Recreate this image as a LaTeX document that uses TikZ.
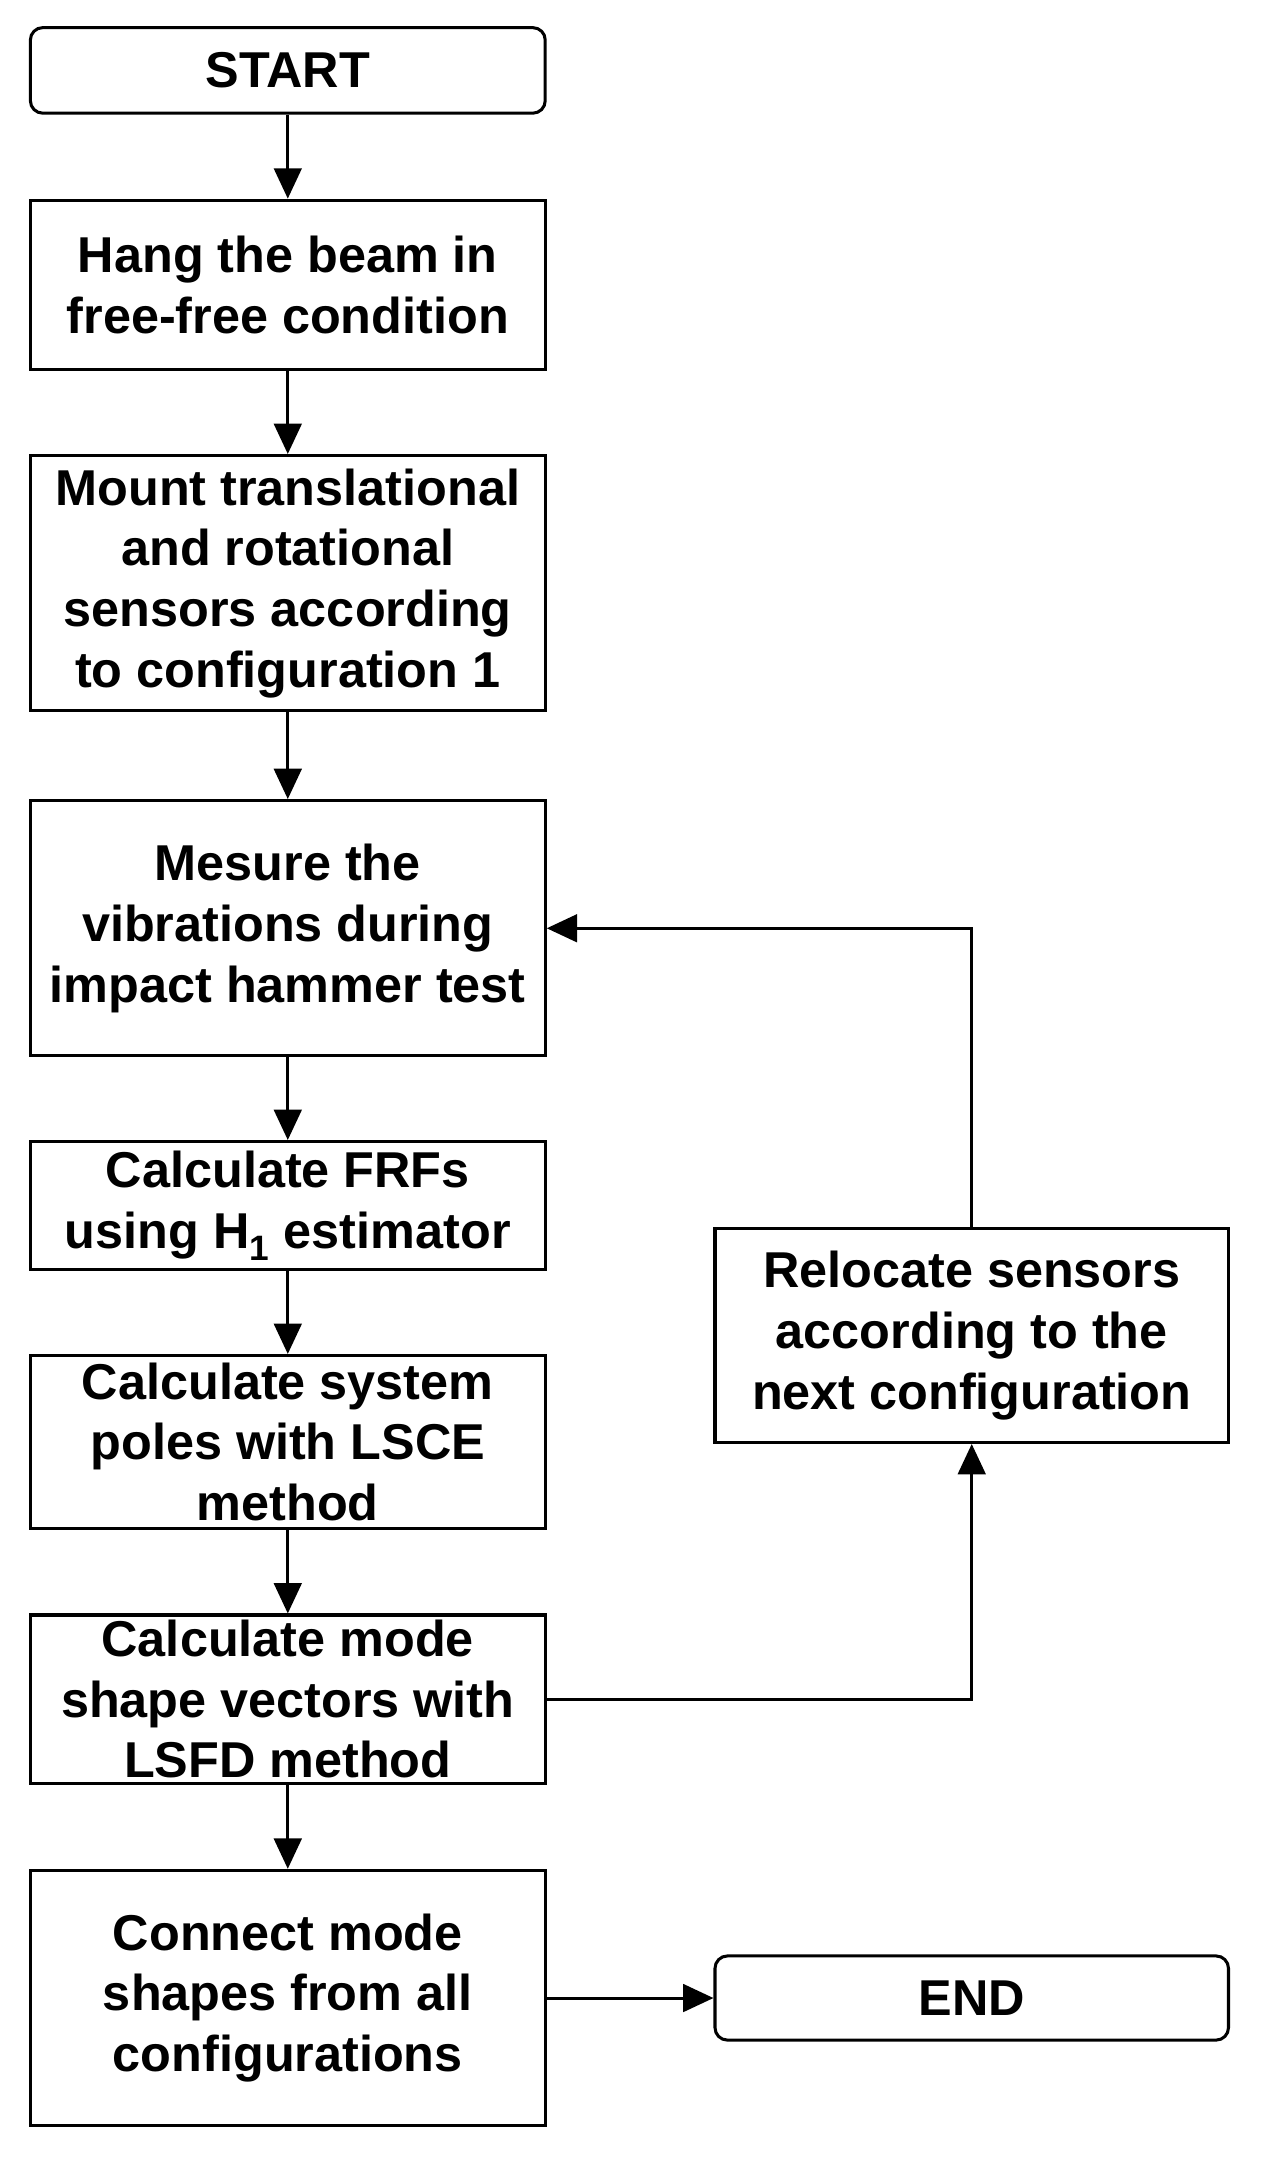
\documentclass[tikz,border=0pt]{standalone}
\usepackage{fontspec}
\setmainfont{Liberation Sans}
\usetikzlibrary{arrows.meta}
\begin{document}
\begin{tikzpicture}[x=1pt,y=-1pt,
  box/.style={draw,line width=2.2pt,align=center,font=\fontsize{36.5}{44}\selectfont\bfseries,inner sep=0pt},
  arr/.style={line width=2.2pt,-{Triangle[length=22pt,width=20pt]}}]
\useasboundingbox (0,0) rectangle (915,1575);
\node[box,rounded corners=9pt,minimum width=373pt,minimum height=62pt] (start) at (208.5,51) {START};
\node[box,minimum width=373pt,minimum height=123pt] (hang) at (208.5,206.5) {Hang the beam in\\free-free condition};
\node[box,minimum width=373pt,minimum height=185pt] (mount) at (208.5,422.5) {Mount translational\\and rotational\\sensors according\\to configuration 1};
\node[box,minimum width=373pt,minimum height=185pt] (mes) at (208.5,672.5) {Mesure the\\vibrations during\\impact hammer test};
\node[box,minimum width=373pt,minimum height=93pt] (frf) at (208.5,873.5) {Calculate FRFs\\using H\textsubscript{1} estimator};
\node[box,minimum width=373pt,minimum height=125pt] (poles) at (208.5,1044.5) {Calculate system\\poles with LSCE\\method};
\node[box,minimum width=373pt,minimum height=122pt] (mode) at (208.5,1231) {Calculate mode\\shape vectors with\\LSFD method};
\node[box,minimum width=373pt,minimum height=185pt] (conn) at (208.5,1447.5) {Connect mode\\shapes from all\\configurations};
\node[box,rounded corners=9pt,minimum width=372pt,minimum height=61pt] (end) at (704,1447.5) {END};
\node[box,minimum width=372pt,minimum height=155pt] (reloc) at (704,967.5) {Relocate sensors\\according to the\\next configuration};
\draw[arr] (start) -- (hang);
\draw[arr] (hang) -- (mount);
\draw[arr] (mount) -- (mes);
\draw[arr] (mes) -- (frf);
\draw[arr] (frf) -- (poles);
\draw[arr] (poles) -- (mode);
\draw[arr] (mode) -- (conn);
\draw[arr] (conn) -- (end);
\draw[arr] (mode.east) -| (reloc.south);
\draw[arr] (reloc.north) |- (mes.east);
\end{tikzpicture}
\end{document}
